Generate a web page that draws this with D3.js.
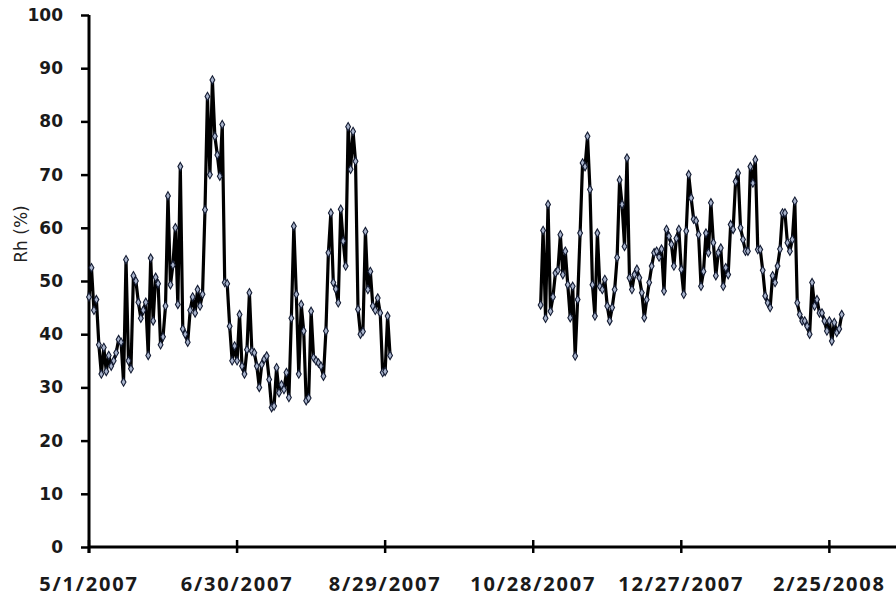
<!DOCTYPE html>
<html lang="en">
<head>
    <meta charset="UTF-8">
    <title>Rh (%)</title>
    <script src="https://d3js.org/d3.v7.min.js"></script>
    <style>
        body { margin: 0; background: #fff; }
        svg { display: block; }
    </style>
</head>
<body>
    <script>
        const width = 896;
        const height = 596;

        // daily relative humidity, two observation periods
        const start1 = "5/1/2007";
        const values1 = [
            47, 52.5, 44.5, 46.5, 38, 32.5, 37.5, 33, 36, 34,
            35, 36.5, 39, 38.5, 31, 54, 35, 33.5, 51, 50,
            46, 43, 44.5, 46, 36, 54.3, 42.5, 50.7, 49.5, 38,
            39.5, 45.3, 66, 49.3, 53, 60, 45.6, 71.5, 41, 40,
            38.5, 44.5, 47, 44, 48.4, 45.3, 47.5, 63.4, 84.7, 70,
            87.8, 77.2, 73.7, 69.7, 79.4, 49.7, 49.5, 41.5, 35, 37.8,
            35, 43.7, 34, 32.5, 37.1, 47.8, 36.8, 36.5, 34, 30,
            34.3, 35.3, 35.9, 31.5, 26.2, 26.5, 33.7, 29, 30.5, 29.6,
            32.8, 28.1, 43, 60.3, 47.5, 32.5, 45.6, 40.6, 27.5, 28,
            44.3, 35.6, 35, 34.6, 34, 32.1, 40.6, 55.3, 62.8, 49.7,
            48.5, 45.9, 63.5, 57.5, 52.8, 79, 71, 78.1, 72.5, 44.7,
            40, 40.5, 59.3, 48.4, 51.8, 45.3, 44.5, 46.8, 44, 32.8,
            33, 43.4, 36
        ];

        const start2 = "10/31/2007";
        const values2 = [
            45.5, 59.5, 43, 64.4, 44.3, 47, 51.5, 52, 58.7, 51.2,
            55.6, 49.3, 43.1, 49, 35.9, 46.5, 59, 72.2, 71.5, 77.2,
            67.2, 49.3, 43.4, 59, 49, 48.4, 50.3, 45.3, 42.5, 45,
            48.4, 54.4, 69, 64.4, 56.5, 73.1, 50.6, 48.4, 51.2, 52.2,
            50.6, 47.8, 43.1, 46.5, 49.7, 52.8, 55.3, 55.6, 54.5, 56,
            48.1, 59.7, 58.4, 56.9, 52.8, 58, 59.7, 52.2, 47.5, 59.4,
            70, 65.6, 61.6, 61.3, 58.7, 49, 51.8, 59, 55.3, 64.7,
            57.2, 51, 55.3, 56.2, 49, 52.5, 51.2, 60.6, 59.7, 68.7,
            70.3, 60, 57.8, 55.6, 55.6, 71.5, 68.4, 72.8, 55.9, 55.9,
            52, 47.2, 45.9, 45, 51, 49.7, 52.8, 56, 62.8, 62.8,
            57.2, 55.6, 57.8, 65, 45.9, 43.7, 42.5, 42.5, 41.5, 40,
            49.7, 45.3, 46.5, 44, 44, 42.5, 40.6, 42.5, 38.7, 42.2,
            40.3, 41, 43.7
        ];

        const xTickLabels = ["5/1/2007", "6/30/2007", "8/29/2007", "10/28/2007", "12/27/2007", "2/25/2008"];
        const yTicks = [0, 10, 20, 30, 40, 50, 60, 70, 80, 90, 100];
        const xDomain = ["5/1/2007", "3/23/2008"];

        const parse = d3.timeParse("%m/%d/%Y");

        function toSeries(startLabel, values) {
            const s = parse(startLabel);
            return values.map((v, i) => ({ date: d3.timeDay.offset(s, i), value: v }));
        }

        const series = [toSeries(start1, values1), toSeries(start2, values2)];

        const x = d3.scaleTime()
            .domain(xDomain.map(parse))
            .range([89, 896]);

        const y = d3.scaleLinear()
            .domain([0, 100])
            .range([547, 15]);

        const svg = d3.select("body").append("svg")
            .attr("width", width)
            .attr("height", height);

        // y axis
        const yAxis = svg.append("g")
            .attr("transform", `translate(${x.range()[0]},0)`)
            .call(d3.axisLeft(y).tickValues(yTicks).tickSize(8).tickPadding(18).tickSizeOuter(0));
        yAxis.select(".domain").remove();
        yAxis.selectAll(".tick line").attr("stroke", "#000").attr("stroke-width", 2.5);
        yAxis.selectAll(".tick text")
            .attr("fill", "#1a1a1a")
            .style("font-family", "DejaVu Sans")
            .style("font-weight", "bold")
            .style("font-size", "17px");

        svg.append("line")
            .attr("x1", x.range()[0]).attr("x2", x.range()[0])
            .attr("y1", y(100)).attr("y2", y(0) + 6)
            .attr("stroke", "#000").attr("stroke-width", 3);

        // x axis
        svg.append("line")
            .attr("x1", x.range()[0]).attr("x2", x.range()[1])
            .attr("y1", y(0)).attr("y2", y(0))
            .attr("stroke", "#000").attr("stroke-width", 3);

        const xt = svg.append("g").selectAll("g")
            .data(xTickLabels)
            .enter().append("g")
            .attr("transform", d => `translate(${x(parse(d))},${y(0)})`);

        xt.append("line")
            .attr("y1", -7).attr("y2", 6)
            .attr("stroke", "#000").attr("stroke-width", 2.5);

        xt.append("text")
            .attr("y", 30)
            .attr("dy", "0.71em")
            .attr("text-anchor", "middle")
            .attr("fill", "#1a1a1a")
            .style("font-family", "Noto Sans")
            .style("font-weight", "bold")
            .style("font-size", "20px")
            .style("letter-spacing", "1.8px")
            .text(d => d);

        svg.append("text")
            .attr("transform", "translate(27,234) rotate(-90)")
            .attr("text-anchor", "middle")
            .attr("fill", "#222")
            .style("font-family", "DejaVu Sans")
            .style("font-size", "17px")
            .text("Rh (%)");

        const line = d3.line()
            .x(d => x(d.date))
            .y(d => y(d.value));

        svg.selectAll(".series")
            .data(series)
            .enter().append("path")
            .attr("class", "series")
            .attr("d", line)
            .attr("fill", "none")
            .attr("stroke", "#000")
            .attr("stroke-width", 3.2)
            .attr("stroke-linejoin", "round");

        const marker = d3.symbol().type(d3.symbolDiamond).size(20);

        svg.selectAll(".pt")
            .data(series.flat())
            .enter().append("path")
            .attr("class", "pt")
            .attr("transform", d => `translate(${x(d.date)},${y(d.value)})`)
            .attr("d", marker)
            .attr("fill", "#a9b4cc")
            .attr("stroke", "#141c33")
            .attr("stroke-width", 1.1);
    </script>
</body>
</html>
